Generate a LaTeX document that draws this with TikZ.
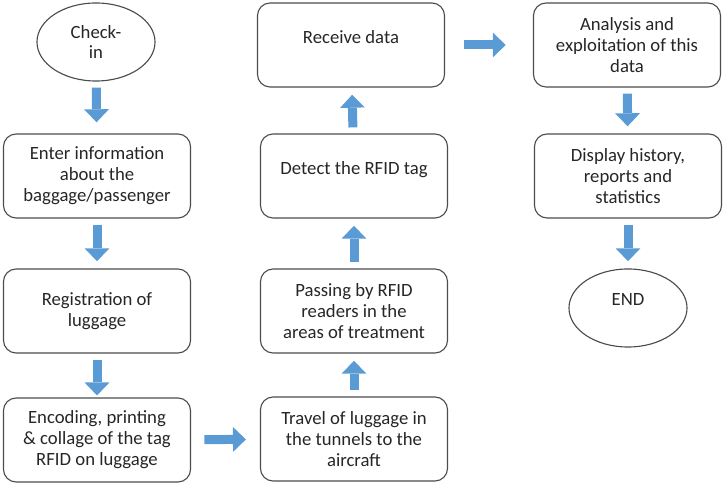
\documentclass[tikz,border=0pt]{standalone}
\usepackage{fontspec}
\setmainfont{Carlito}
\usetikzlibrary{arrows.meta,shapes.geometric}
\definecolor{flowblue}{RGB}{91,155,213}
\begin{document}
\begin{tikzpicture}[
  x=0.025cm, y=-0.025cm,
  box/.style={
    draw=black!70, line width=0.8pt, rounded corners=9pt,
    minimum width=4.675cm, minimum height=2.1cm,
    font=\fontsize{13.3}{14.9}\selectfont, text=black!85,
    align=center, inner sep=2pt,
  },
  oval/.style={box, ellipse, rounded corners=0pt,
    minimum width=2.95cm, minimum height=1.95cm},
  up/.style={text depth=0.42cm},
  flow/.style={
    draw=flowblue, line width=6.4pt,
    -{Triangle[width=17.7pt,length=9.2pt,line width=0pt]},
    shorten <=0.15cm, shorten >=0.18cm,
  },
]

% page in pixels: 723 x 484
\useasboundingbox (0,0) rectangle (723,484);

% left column: check-in to tagging
\node[oval] (checkin) at (96,42) {Check-\\in};
\node[box] (info) at (97,176) {Enter information\\about the\\baggage/passenger};
\node[box] (reg)  at (97,311) {Registration of\\luggage};
\node[box] (enc)  at (97,440) {Encoding, printing\\\& collage of the tag\\RFID on luggage};

% middle column: travel to reception
\node[box] (travel)  at (354,439) {Travel of luggage in\\the tunnels to the\\aircraft};
\node[box] (passing) at (354,311) {Passing by RFID\\readers in the\\areas of treatment};
\node[box, up] (detect)  at (354,176) {Detect the RFID tag};
\node[box, up] (receive) at (351,45) {Receive data};

% right column: use of data
\node[box] (analysis) at (627,45) {Analysis and\\exploitation of this\\data};
\node[box] (display)  at (628,176) {Display history,\\reports and\\statistics};
\node[oval, up] (end) at (628,308) {END};

% arrows
\draw[flow, shorten >=0.28cm] (checkin) -- (info);
\draw[flow] (info) -- (reg);
\draw[flow, shorten >=0.05cm] (reg) -- (enc);
\draw[flow, shorten <=0.33cm, shorten >=0.35cm] (enc) -- (travel);
\draw[flow] (travel) -- (passing);
\draw[flow] (passing) -- (detect);
\draw[flow] (detect) -- (receive);
\draw[flow, shorten <=0.48cm, shorten >=0.68cm] (receive) -- (analysis);
\draw[flow] (analysis) -- (display);
\draw[flow] (display) -- (end);

\end{tikzpicture}
\end{document}
